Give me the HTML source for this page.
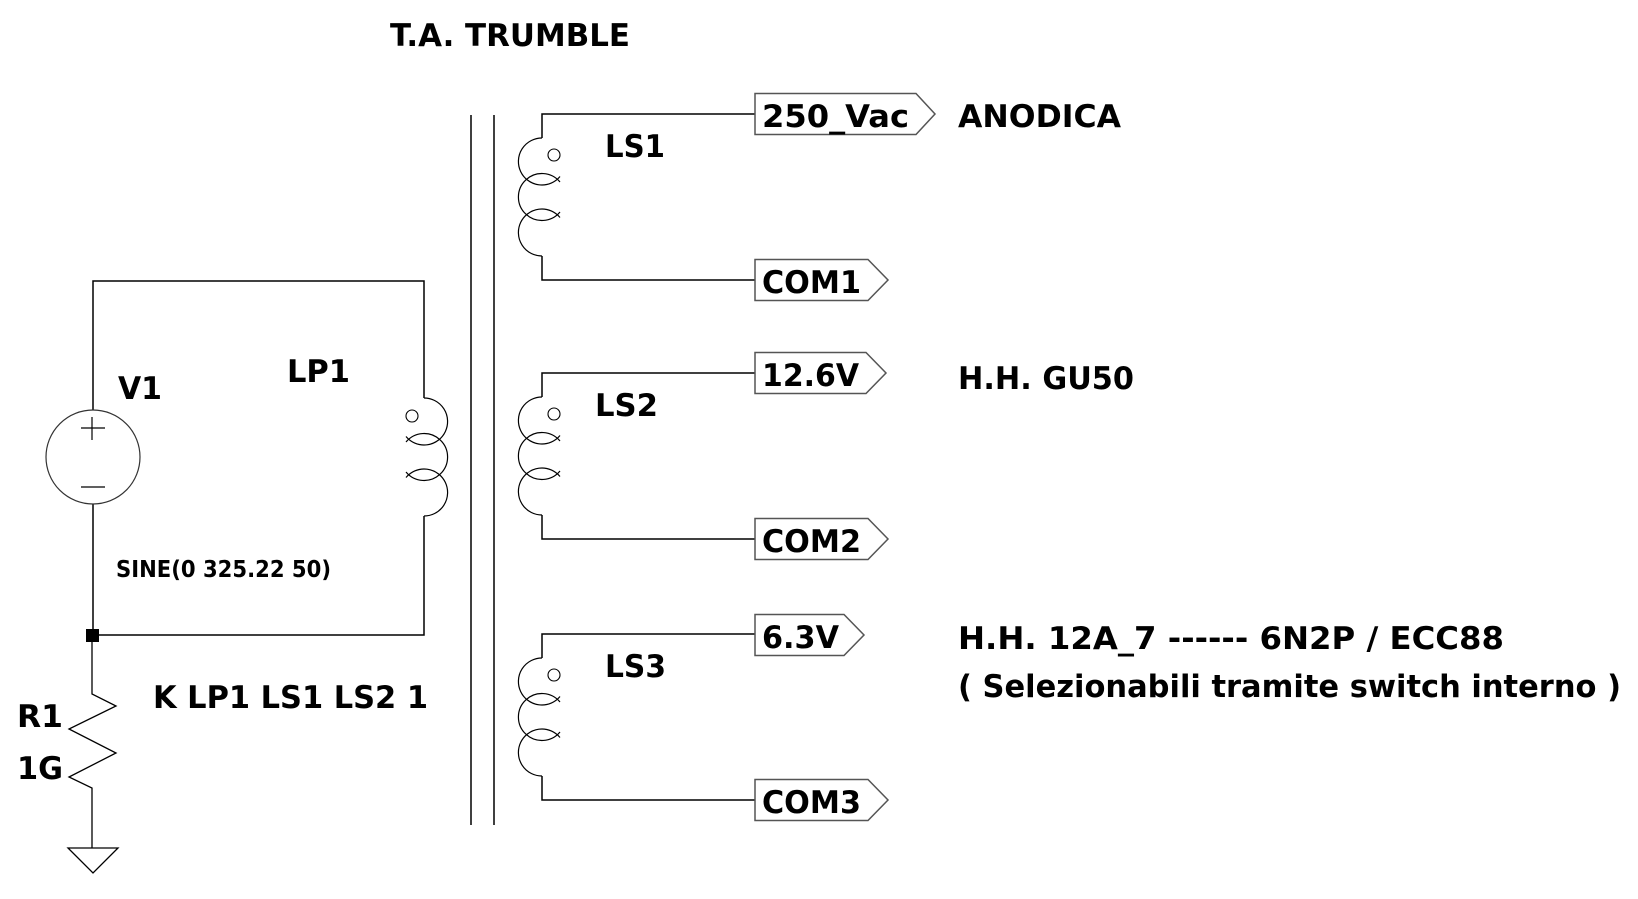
<!DOCTYPE html>
<html><head><meta charset="utf-8"><style>
html,body{margin:0;padding:0;background:#fff;}
svg{display:block;}
text{font-family:"DejaVu Sans","Liberation Sans",sans-serif;font-weight:bold;fill:#000;}
</style></head><body>
<svg width="1638" height="899" viewBox="0 0 1638 899" xmlns="http://www.w3.org/2000/svg">
<g fill="none" stroke="#000" stroke-width="1.5">
<polyline points="93,410 93,281 424,281 424,398"/>
<polyline points="93,504 93,635 424,635 424,516"/>
<circle cx="93" cy="457" r="47" stroke="#333" stroke-width="1.2"/>
<line x1="81" y1="428" x2="105" y2="428" stroke-width="1.2"/>
<line x1="92" y1="417" x2="92" y2="440" stroke-width="1.2"/>
<line x1="81" y1="487" x2="105" y2="487" stroke-width="1.2"/>
<polyline points="92,635 92,694 116,706 69,729 116,753 69,777 92,788 92,848" stroke-width="1.3"/>
<polygon points="68,848 118,848 93,873" stroke-width="1.3"/>
<path d="M424,398 A23.5,23.5 0 1 1 406,436.5" stroke-width="1.2"/>
<path d="M406,442 A23.5,23.5 0 1 1 406,472" stroke-width="1.2"/>
<path d="M406,477.5 A23.5,23.5 0 1 1 424,516" stroke-width="1.2"/>
<circle cx="412" cy="416" r="6" stroke-width="1.1"/>
<line x1="471" y1="115" x2="471" y2="825"/>
<line x1="494" y1="115" x2="494" y2="825"/>
</g>

<g id="sec1" fill="none" stroke="#000" stroke-width="1.5">
<polyline points="755,114 542,114 542,138"/>
<polyline points="542,256 542,280 755,280"/>
<path d="M542,138 A23.5,23.5 0 1 0 560,176.5" stroke-width="1.2"/>
<path d="M560,182 A23.5,23.5 0 1 0 560,212" stroke-width="1.2"/>
<path d="M560,217.5 A23.5,23.5 0 1 0 542,256" stroke-width="1.2"/>
<circle cx="554" cy="155" r="6" stroke-width="1.1"/>
</g>
<use href="#sec1" transform="translate(0,259)"/>
<use href="#sec1" transform="translate(0,520)"/>

<g fill="#fff" stroke="#555" stroke-width="1.5">
<polygon points="755,93.5 916,93.5 935,114 916,134.5 755,134.5"/>
<polygon points="755,259.5 868,259.5 888,280 868,300.5 755,300.5"/>
<polygon points="755,352.5 866,352.5 886,373 866,393.5 755,393.5"/>
<polygon points="755,518.5 868,518.5 888,539 868,559.5 755,559.5"/>
<polygon points="755,614.5 844,614.5 864,635 844,655.5 755,655.5"/>
<polygon points="755,779.5 868,779.5 888,800 868,820.5 755,820.5"/>
</g>

<g font-size="31">
<text x="390" y="46" textLength="240" lengthAdjust="spacingAndGlyphs">T.A. TRUMBLE</text>
<text x="958" y="127" textLength="163" lengthAdjust="spacingAndGlyphs">ANODICA</text>
<text x="958" y="389" textLength="176" lengthAdjust="spacingAndGlyphs">H.H. GU50</text>
<text x="958" y="649" textLength="546" lengthAdjust="spacingAndGlyphs">H.H. 12A_7 ------ 6N2P / ECC88</text>
<text x="958" y="697" textLength="663" lengthAdjust="spacingAndGlyphs">( Selezionabili tramite switch interno )</text>
<text x="118" y="399" textLength="44" lengthAdjust="spacingAndGlyphs">V1</text>
<text x="287" y="382" textLength="63" lengthAdjust="spacingAndGlyphs">LP1</text>
<text x="605" y="157" textLength="60" lengthAdjust="spacingAndGlyphs">LS1</text>
<text x="595" y="416" textLength="63" lengthAdjust="spacingAndGlyphs">LS2</text>
<text x="605" y="677" textLength="61" lengthAdjust="spacingAndGlyphs">LS3</text>
<text x="116" y="577" font-size="23" textLength="215" lengthAdjust="spacingAndGlyphs">SINE(0 325.22 50)</text>
<text x="153" y="708" textLength="275" lengthAdjust="spacingAndGlyphs">K LP1 LS1 LS2 1</text>
<text x="17" y="727" textLength="46" lengthAdjust="spacingAndGlyphs">R1</text>
<text x="17" y="779" textLength="46" lengthAdjust="spacingAndGlyphs">1G</text>
<text x="762" y="127" textLength="147" lengthAdjust="spacingAndGlyphs">250_Vac</text>
<text x="762" y="293" textLength="99" lengthAdjust="spacingAndGlyphs">COM1</text>
<text x="762" y="386" textLength="97" lengthAdjust="spacingAndGlyphs">12.6V</text>
<text x="762" y="552" textLength="99" lengthAdjust="spacingAndGlyphs">COM2</text>
<text x="762" y="648" textLength="77" lengthAdjust="spacingAndGlyphs">6.3V</text>
<text x="762" y="813" textLength="99" lengthAdjust="spacingAndGlyphs">COM3</text>
</g>
<rect x="86" y="629" width="13" height="13" fill="#000"/>
</svg>
</body></html>
